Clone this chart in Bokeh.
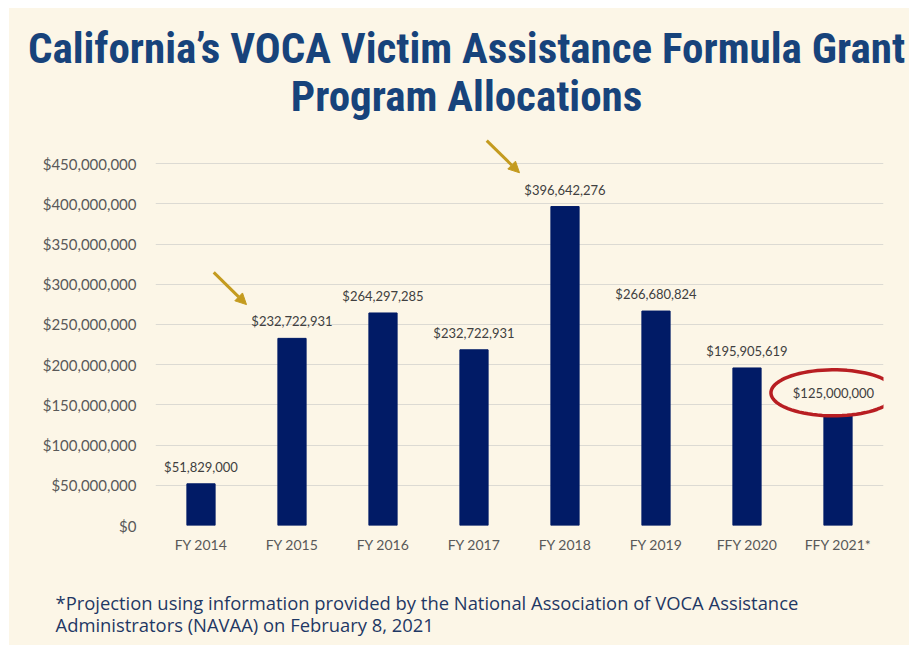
import numpy as np
from bokeh.plotting import figure
from bokeh.layouts import column
from bokeh.core.properties import value
from bokeh.models import (Range1d, FixedTicker, NumeralTickFormatter, Arrow, NormalHead,
                          PolyAnnotation, Label, ColumnDataSource)
from bokeh.embed import file_html
from bokeh.resources import INLINE

# ---- data ----
categories = ["FY 2014", "FY 2015", "FY 2016", "FY 2017", "FY 2018", "FY 2019", "FFY 2020", "FFY 2021*"]
bar_values = [51_829_000, 232_722_931, 264_297_285, 218_500_000, 396_642_276, 266_680_824, 195_905_619, 142_000_000]
bar_labels = ["$51,829,000", "$232,722,931", "$264,297,285", "$232,722,931", "$396,642,276",
              "$266,680,824", "$195,905,619", "$125,000,000"]
y_ticks = [0, 50e6, 100e6, 150e6, 200e6, 250e6, 300e6, 350e6, 400e6, 450e6]
highlighted = [1, 4]          # arrows point at these bars
circled = 7                   # circled projection
title_lines = ["California\u2019s VOCA Victim Assistance Formula Grant", "Program Allocations"]
footnote_lines = ["*Projection using information provided by the National Association of VOCA Assistance",
                  "Administrators (NAVAA) on February 8, 2021"]

BG = "#FCF6E7"
NAVY = "#011B66"
TITLE_C = "#17437B"
GOLD = "#C49B1F"
RED = "#B81E22"
GRAY = "#595959"
W = 900
TITLE_FONT = "'Roboto Condensed', 'DejaVu Sans Condensed', 'Liberation Sans Narrow', sans-serif"


def text_panel(height):
    f = figure(width=W, height=height, output_backend="svg", toolbar_location=None,
               x_range=Range1d(0, W), y_range=Range1d(0, height),
               min_border=0, x_axis_type=None, y_axis_type=None, frame_align=False)
    f.background_fill_color = BG
    f.border_fill_color = BG
    f.outline_line_color = None
    f.xgrid.grid_line_color = None
    f.ygrid.grid_line_color = None
    return f


# ---- title panel ----
top = text_panel(127)
for k, line in enumerate(title_lines):
    top.add_layout(Label(x=457, y=88 - 48 * k, text=line, text_align="center", text_baseline="middle",
                         text_font=TITLE_FONT, text_font_style="bold",
                         text_font_size="43px", text_color=TITLE_C))

# ---- main chart ----
p = figure(width=W, height=425, output_backend="svg", toolbar_location=None,
           x_range=Range1d(0, len(categories)), y_range=Range1d(0, 485e6),
           min_border_left=146, min_border_right=26, min_border_top=0, min_border_bottom=35,
           frame_align=False)
p.background_fill_color = BG
p.border_fill_color = BG
p.outline_line_color = None

xs = [i + 0.5 for i in range(len(categories))]
src = ColumnDataSource(dict(x=xs, top=bar_values, label=bar_labels))
p.vbar(x="x", top="top", width=0.31, source=src, fill_color=NAVY, line_color=NAVY)

lab_src = ColumnDataSource(dict(x=xs[:circled], y=bar_values[:circled], label=bar_labels[:circled]))
p.text(x="x", y="y", text="label", source=lab_src, text_align="center", text_baseline="middle",
       y_offset=-17, text_font=value("Lato"), text_font_size="13px", text_color="#404040")

p.yaxis.ticker = FixedTicker(ticks=y_ticks)
p.yaxis.formatter = NumeralTickFormatter(format="$0,0")
p.yaxis.axis_line_color = None
p.yaxis.major_tick_line_color = None
p.yaxis.minor_tick_line_color = None
p.yaxis.major_label_standoff = 13
p.yaxis.major_label_text_font = "Lato"
p.yaxis.major_label_text_font_size = "15px"
p.yaxis.major_label_text_color = GRAY

p.xaxis.ticker = FixedTicker(ticks=xs)
p.xaxis.major_label_overrides = {x: c for x, c in zip(xs, categories)}
p.xaxis.axis_line_color = None
p.xaxis.major_tick_line_color = None
p.xaxis.minor_tick_line_color = None
p.xaxis.major_label_standoff = 4
p.xaxis.major_label_text_font = "Lato"
p.xaxis.major_label_text_font_size = "14px"
p.xaxis.major_label_text_color = GRAY

p.xgrid.grid_line_color = None
p.ygrid.grid_line_color = "#DCDAD3"
p.ygrid.grid_line_width = 1

for i in highlighted:
    ex, ey = xs[i] - 0.5, bar_values[i] + 42e6
    p.add_layout(Arrow(x_start=ex - 0.36, y_start=ey + 40e6, x_end=ex, y_end=ey,
                       line_color=GOLD, line_width=3,
                       end=NormalHead(size=11, fill_color=GOLD, line_color=GOLD)))

cx, cy = xs[circled] - 0.05, 165e6
t = np.linspace(0, 2 * np.pi, 80)
p.add_layout(PolyAnnotation(xs=list(cx + 0.687 * np.cos(t)), ys=list(cy + 28.6e6 * np.sin(t)),
                            fill_color=BG, fill_alpha=1, line_color=RED, line_alpha=1, line_width=3.5))
p.add_layout(Label(x=cx, y=cy, text=bar_labels[circled], text_align="center", text_baseline="middle",
                   text_font="Lato", text_font_size="13px", text_color="#404040"))

# ---- footnote panel ----
bottom = text_panel(85)
for k, line in enumerate(footnote_lines):
    bottom.add_layout(Label(x=46, y=43 - 22 * k, text=line, text_align="left", text_baseline="middle",
                            text_font="Open Sans", text_font_size="18.4px", text_color="#1F3864"))

layout = column(top, p, bottom, spacing=0)
layout.margin = (8, 0, 0, 9)
layout.styles = {"background-color": BG}
open("out.html", "w").write(file_html(layout, INLINE))
